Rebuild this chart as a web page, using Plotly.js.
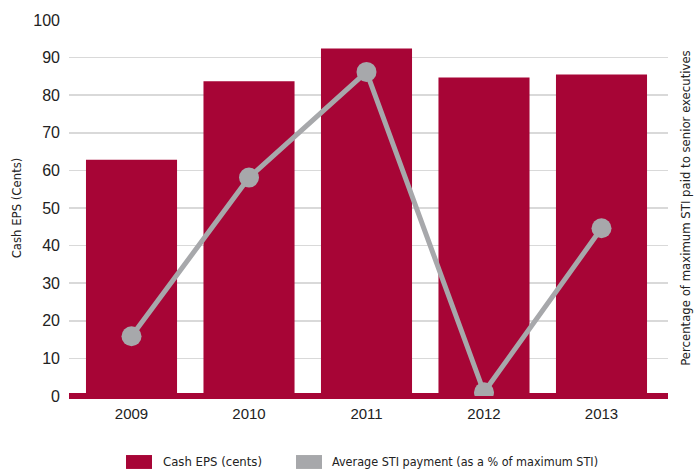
<!DOCTYPE html>
<html>
<head>
<meta charset="utf-8">
<script src="https://cdn.plot.ly/plotly-3.0.1.min.js"></script>
<style>html,body{margin:0;padding:0;background:#fff}#chart{width:694px;height:472px}</style>
</head>
<body>
<div id="chart"></div>
<script>
const years = ["2009", "2010", "2011", "2012", "2013"];
const cashEps = [62.8, 83.7, 92.4, 84.7, 85.5];
const stiPct = [15.9, 58.1, 86.2, 1.0, 44.6];
const seriesNames = ["Cash EPS (cents)", "Average STI payment (as a % of maximum STI)"];
const yTicks = [0, 10, 20, 30, 40, 50, 60, 70, 80, 90, 100];

const crimson = "#a70536";
const grey = "#a7a8ab";
const font = "'DejaVu Sans Condensed', 'Liberation Sans Narrow', sans-serif";
const tickFont = "'Liberation Sans', Arial, sans-serif";

const traces = [
  {type: "bar", x: years, y: cashEps, name: seriesNames[0], marker: {color: crimson}, showlegend: false},
  {type: "scatter", mode: "lines+markers", x: years, y: stiPct, name: seriesNames[1], yaxis: "y2",
   line: {color: grey, width: 5}, marker: {color: grey, size: 20}, showlegend: false}
];

const layout = {
  width: 694, height: 472,
  margin: {l: 69, r: 26, t: 20, b: 76},
  paper_bgcolor: "#fff", plot_bgcolor: "#fff",
  bargap: 0.225,
  showlegend: false,
  xaxis: {type: "category", range: [-0.532, 4.566], showgrid: false, showline: false, ticks: "",
    tickfont: {family: tickFont, size: 15, color: "#222"}, ticklabelstandoff: 7},
  yaxis: {range: [0, 100], tickvals: yTicks, showgrid: true, gridcolor: "#d9d9d9", gridwidth: 1.5,
    zeroline: true, zerolinecolor: crimson, zerolinewidth: 6, showline: false, ticks: "",
    tickfont: {family: tickFont, size: 16, color: "#222"}, ticklabelstandoff: 8,
    title: {text: "Cash EPS (Cents)", font: {family: font, size: 13, color: "#222"}, standoff: 8}},
  yaxis2: {range: [0, 100], overlaying: "y", side: "right", showgrid: false, zeroline: false, showticklabels: false, ticks: "",
    title: {text: "Percentage of maximum STI paid to senior executives", font: {family: font, size: 13, color: "#222"}, standoff: 12}},
  shapes: [
    {type: "rect", xref: "paper", yref: "paper", x0: 0.0952, x1: 0.1386, y0: -0.194, y1: -0.157, fillcolor: crimson, line: {width: 0}},
    {type: "rect", xref: "paper", yref: "paper", x0: 0.379, x1: 0.4224, y0: -0.194, y1: -0.157, fillcolor: grey, line: {width: 0}}
  ],
  annotations: [
    {xref: "paper", yref: "paper", x: 0.1536, y: -0.1755, xanchor: "left", yanchor: "middle", showarrow: false, text: seriesNames[0], font: {family: font, size: 13, color: "#222"}},
    {xref: "paper", yref: "paper", x: 0.4357, y: -0.1755, xanchor: "left", yanchor: "middle", showarrow: false, text: seriesNames[1], font: {family: font, size: 12.5, color: "#222"}}
  ]
};

Plotly.newPlot("chart", traces, layout, {displayModeBar: false, staticPlot: true});
</script>
</body>
</html>
